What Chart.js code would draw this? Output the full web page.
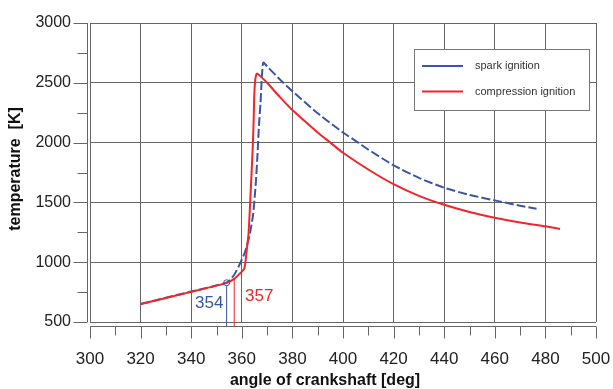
<!DOCTYPE html>
<html>
<head>
<meta charset="utf-8">
<script src="https://cdn.jsdelivr.net/npm/chart.js@4"></script>
<style>
  html, body { margin: 0; padding: 0; background: #fff; }
  #wrap { width: 613px; height: 389px; }
</style>
</head>
<body>
<div id="wrap"><canvas id="tempChart" width="613" height="389"></canvas></div>
<script>
// crank angle [deg] / temperature [K]
const angleSI = [320, 340, 354, 357, 359.3, 361.3, 363.2, 364.5, 365.2, 365.6, 366.2, 366.8, 367.4, 367.9, 368.5,
                 370, 376.4, 380, 390, 400, 406, 410, 420, 430, 440, 450, 460, 470, 476.5];
const tempSI  = [650, 755, 830, 895, 989, 1086, 1239, 1405, 1572, 1683, 1900, 2150, 2330, 2540, 2669,
                 2637, 2500, 2430, 2245, 2085, 2000, 1942, 1810, 1705, 1622, 1563, 1517, 1472, 1447];

const angleCI = [320, 340, 354, 357, 359, 361, 362, 362.7, 363.3, 363.8, 364.3, 364.7, 364.9, 365.2, 365.6, 366.1,
                 370, 375, 380, 390, 395, 400, 410, 420, 430, 440, 450, 460, 470, 480, 485.8];
const tempCI  = [650, 752, 827, 860, 900, 947, 1110, 1250, 1500, 1720, 1950, 2200, 2380, 2500, 2560, 2578,
                 2500, 2382, 2272, 2085, 2000, 1915, 1775, 1652, 1555, 1480, 1420, 1372, 1332, 1300, 1278];

const seriesNames = ['spark ignition', 'compression ignition'];
const seriesColors = ['#3a55a6', '#f3242b'];

// start of ignition markers
const markerAngles = [354, 357];
const markerTemps = [828, 860];
const markerLabels = ['354', '357'];

const xTicks = { min: 300, max: 500, step: 20, minor: 10 };
const yTicks = { min: 500, max: 3000, step: 500, minor: 250 };

const toPoints = (xs, ys) => xs.map((x, i) => ({ x: x, y: ys[i] }));

const FONT = '"Liberation Sans", Arial, sans-serif';

// axis lines, tick marks, titles, legend and markers
const decorPlugin = {
    id: 'decor',
    afterDraw(chart) {
        const ctx = chart.ctx;
        const xs = chart.scales.x;
        const ys = chart.scales.y;
        const area = chart.chartArea;
        ctx.save();

        // separate axis lines with tick marks
        ctx.strokeStyle = '#666';
        ctx.lineWidth = 1;
        const axisY = Math.round(area.bottom) + 4.5;
        const axisX = Math.round(area.left) - 2.5;
        ctx.beginPath();
        ctx.moveTo(area.left, axisY);
        ctx.lineTo(area.right, axisY);
        for (let v = xTicks.min; v <= xTicks.max; v += xTicks.minor) {
            const px = Math.round(xs.getPixelForValue(v)) + 0.5;
            const len = (v % xTicks.step === 0) ? 12 : 9;
            ctx.moveTo(px, axisY);
            ctx.lineTo(px, axisY + len);
        }
        ctx.moveTo(axisX, area.top);
        ctx.lineTo(axisX, area.bottom);
        for (let v = yTicks.min; v <= yTicks.max; v += yTicks.minor) {
            const py = Math.round(ys.getPixelForValue(v)) + 0.5;
            const len = (v % yTicks.step === 0) ? 14 : 10;
            ctx.moveTo(axisX, py);
            ctx.lineTo(axisX - len, py);
        }
        ctx.stroke();

        // axis titles
        ctx.fillStyle = '#111';
        ctx.font = 'bold 16px ' + FONT;
        ctx.textAlign = 'center';
        ctx.textBaseline = 'middle';
        ctx.fillText('angle of crankshaft [deg]', 325, 381);
        ctx.save();
        ctx.translate(16, 169);
        ctx.rotate(-Math.PI / 2);
        ctx.fillText('temperature  [K]', 0, 0);
        ctx.restore();

        // ignition markers
        markerAngles.forEach((a, i) => {
            const px = xs.getPixelForValue(a);
            const py = ys.getPixelForValue(markerTemps[i]);
            ctx.strokeStyle = seriesColors[i];
            ctx.lineWidth = 1;
            ctx.beginPath();
            ctx.moveTo(px, py + (i === 0 ? 3 : 0));
            ctx.lineTo(px, axisY);
            ctx.stroke();
            if (i === 0) {
                ctx.beginPath();
                ctx.arc(px, py, 3, 0, Math.PI * 2);
                ctx.stroke();
            }
        });
        ctx.font = '17px ' + FONT;
        ctx.textAlign = 'left';
        ctx.fillStyle = seriesColors[0];
        ctx.fillText(markerLabels[0], 195, 303);
        ctx.fillStyle = seriesColors[1];
        ctx.fillText(markerLabels[1], 245, 296);

        // legend box
        ctx.fillStyle = '#fff';
        ctx.fillRect(414, 49, 175, 61);
        ctx.strokeStyle = '#777';
        ctx.strokeRect(414.5, 49.5, 175, 61);
        ctx.font = '11px ' + FONT;
        seriesNames.forEach((name, i) => {
            const ly = 66 + i * 25.5;
            ctx.strokeStyle = seriesColors[i];
            ctx.lineWidth = 2;
            ctx.beginPath();
            ctx.moveTo(422, ly);
            ctx.lineTo(463, ly);
            ctx.stroke();
            ctx.fillStyle = '#333';
            ctx.fillText(name, 475, ly);
        });
        ctx.restore();
    }
};

const ctx = document.getElementById('tempChart').getContext('2d');
new Chart(ctx, {
    type: 'line',
    data: {
        datasets: [
            {
                label: seriesNames[0],
                data: toPoints(angleSI, tempSI),
                borderColor: seriesColors[0],
                borderWidth: 2,
                borderDash: [9, 3],
                pointRadius: 0,
                tension: 0.2,
                fill: false,
                order: 2
            },
            {
                label: seriesNames[1],
                data: toPoints(angleCI, tempCI),
                borderColor: seriesColors[1],
                borderWidth: 2,
                pointRadius: 0,
                tension: 0.2,
                fill: false,
                order: 1
            }
        ]
    },
    options: {
        responsive: false,
        animation: false,
        layout: { padding: { top: 23, right: 17, left: 0, bottom: 0 } },
        plugins: {
            legend: { display: false },
            tooltip: { enabled: false }
        },
        scales: {
            x: {
                type: 'linear',
                min: xTicks.min,
                max: xTicks.max,
                afterFit: (s) => { s.height = 67; s.paddingLeft = 0; s.paddingRight = 0; },
                ticks: {
                    stepSize: xTicks.step,
                    color: '#222',
                    font: { family: FONT, size: 17 },
                    padding: 27,
                    maxRotation: 0
                },
                grid: { color: '#666', lineWidth: 1, drawTicks: false },
                border: { display: false }
            },
            y: {
                min: yTicks.min,
                max: yTicks.max,
                afterFit: (s) => { s.width = 90; s.paddingTop = 0; s.paddingBottom = 0; },
                ticks: {
                    stepSize: yTicks.step,
                    color: '#222',
                    font: { family: FONT, size: 16 },
                    padding: 19,
                    callback: (v) => String(v)
                },
                grid: { color: '#666', lineWidth: 1, drawTicks: false },
                border: { display: false }
            }
        }
    },
    plugins: [decorPlugin]
});
</script>
</body>
</html>
